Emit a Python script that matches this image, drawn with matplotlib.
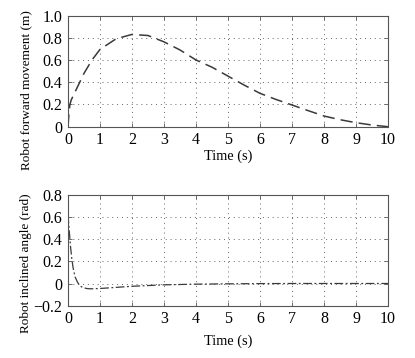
import matplotlib
matplotlib.use("Agg")
import matplotlib.pyplot as plt

plt.rcParams['font.family'] = ['Liberation Serif', 'DejaVu Serif']

t_move = [0, 0.03, 0.06, 0.1, 0.2, 0.3, 0.5, 0.75, 1, 1.5, 2, 2.5, 3, 3.5, 4, 4.5,
          5, 5.5, 6, 6.5, 7, 7.5, 8, 8.5, 9, 9.5, 10]
movement = [0, 0.12, 0.2, 0.24, 0.3, 0.36, 0.48, 0.6, 0.695, 0.79, 0.83, 0.82, 0.763,
            0.69, 0.60, 0.535, 0.455, 0.375, 0.30, 0.245, 0.195, 0.145, 0.096, 0.063,
            0.036, 0.015, 0.0]

t_angle = [0, 0.04, 0.08, 0.12, 0.16, 0.22, 0.3, 0.37, 0.45, 0.58, 0.7, 1, 1.5, 2, 3,
           4, 5, 6, 7, 8, 9, 10]
angle = [0.62, 0.47, 0.33, 0.22, 0.14, 0.06, 0.01, -0.02, -0.035, -0.045, -0.048,
         -0.045, -0.035, -0.025, -0.012, -0.006, -0.003, -0.001, 0, 0, 0, 0]

x_ticks = [0, 1, 2, 3, 4, 5, 6, 7, 8, 9, 10]
y_ticks_top = [0, 0.2, 0.4, 0.6, 0.8, 1.0]
y_labels_top = ['0', '0.2', '0.4', '0.6', '0.8', '1.0']
y_ticks_bot = [-0.2, 0, 0.2, 0.4, 0.6, 0.8]
y_labels_bot = ['\u22120.2', '0', '0.2', '0.4', '0.6', '0.8']

W, H = 415, 358
fig = plt.figure(figsize=(W / 100, H / 100), dpi=100)

def add_ax(l, r, t, b):
    return fig.add_axes([l / W, 1 - b / H, (r - l) / W, (b - t) / H])

ax1 = add_ax(68, 388, 15.5, 126.7)
ax2 = add_ax(68, 388, 194.7, 305.7)

line_col = '#3a3a3a'
ax1.plot(t_move, movement, color=line_col, lw=1.1, linestyle=(0, (8, 4)))
ax2.plot(t_angle, angle, color=line_col, lw=0.9, linestyle=(0, (7, 2, 1.5, 2)))

configs = [
    (ax1, y_ticks_top, y_labels_top, 'Robot forward movement (m)', 15.5, 126.7, 90, 156),
    (ax2, y_ticks_bot, y_labels_bot, 'Robot inclined angle (rad)', 194.7, 305.7, 263, 341),
]
for ax, yt, yl, ylab, top, bot, ylab_c, xlab_y in configs:
    ax.set_xlim(0, 10)
    ax.set_ylim(yt[0], yt[-1])
    ax.set_xticks(x_ticks)
    ax.set_yticks(yt)
    ax.set_yticklabels(yl)
    ax.tick_params(direction='in', length=3, width=0.6, color='#555555',
                   labelsize=11.5, pad=4, top=True, right=True)
    ax.grid(True, linestyle=(0, (1, 4)), color='#666666', lw=0.7)
    for s in ax.spines.values():
        s.set_color('#555555')
        s.set_linewidth(0.8)
    ax.set_xlabel('Time (s)', fontsize=10.3)
    ax.set_ylabel(ylab, fontsize=9.5)
    # label positions in axes coords
    ax.yaxis.set_label_coords((26 - 68) / 320, (bot - ylab_c) / (bot - top))
    ax.xaxis.set_label_coords((228 - 68) / 320, (bot - xlab_y) / (bot - top))
    ax.yaxis.label.set_va('center')
    ax.xaxis.label.set_va('center')

fig.savefig('out.png', dpi=100)
